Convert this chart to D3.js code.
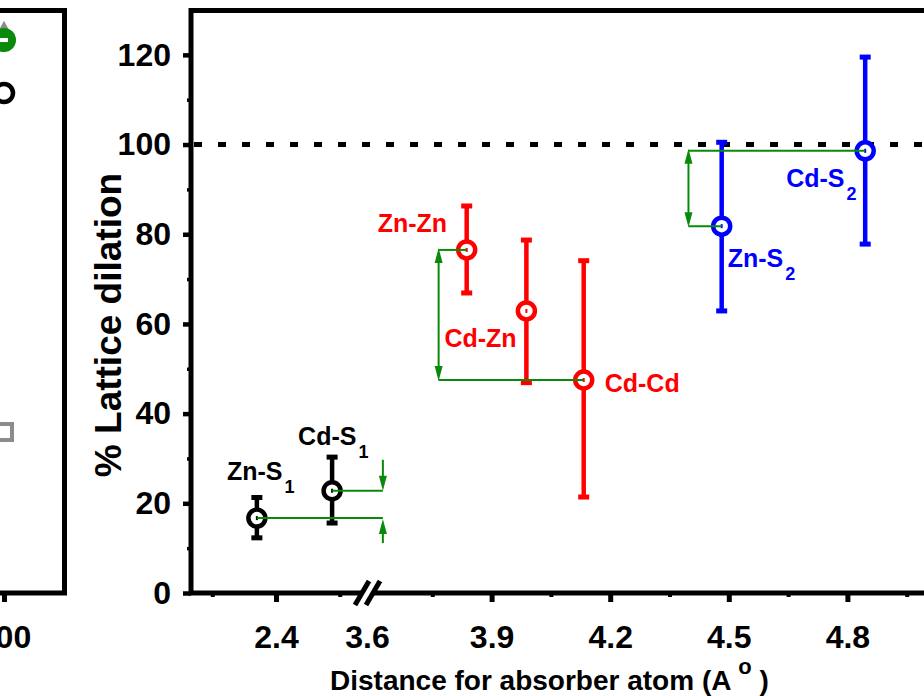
<!DOCTYPE html>
<html>
<head>
<meta charset="utf-8">
<script src="https://cdn.jsdelivr.net/npm/d3@7"></script>
<style>
  body { margin: 0; background: #fff; }
  svg { display: block; font-family: "Liberation Sans", Arial, sans-serif; font-weight: bold; }
</style>
</head>
<body>
<div id="chart"></div>
<script>
// bond pairs and their lattice dilation
const pairNames = ['Zn-S', 'Cd-S', 'Zn-Zn', 'Cd-Zn', 'Cd-Cd', 'Zn-S', 'Cd-S'];
const pairSubs = ['1', '1', '', '', '', '2', '2'];
const pairGroup = [0, 0, 1, 1, 1, 2, 2];
const distance = [2.355, 2.532, 3.837, 3.988, 4.133, 4.482, 4.845];
const dilation = [16.7, 22.8, 76.5, 62.9, 47.5, 81.8, 98.6];
const errLow = [12.3, 15.6, 66.9, 46.9, 21.4, 62.9, 77.8];
const errHigh = [21.3, 30.3, 86.3, 78.7, 74.1, 100.5, 119.5];
const groupColors = ['#000000', '#ff0000', '#0000ff'];

// green brackets: the two pairs they join and where the arrow stands
const bracketPairs = [[1, 0], [2, 4], [6, 5]];
const bracketX = [3.625, 3.766, 4.398];
const bracketKind = ['outside', 'inside', 'inside'];

const yMajor = [0, 20, 40, 60, 80, 100, 120];
const yMinor = [10, 30, 50, 70, 90, 110];
const xMajorLow = [2.4];
const xMinorLow = [2.25, 2.55];
const xMajorHigh = [3.6, 3.9, 4.2, 4.5, 4.8];
const xMinorHigh = [3.75, 4.05, 4.35, 4.65, 4.95];
const refLine = 100;

// neighbouring panel, cut off at the left edge
const leftTicks = [300];
const leftX = [300, 300, 300, 300];
const leftY = [124.5, 123.3, 111.5, 35.9];
const leftShape = ['triangle', 'disc', 'circle', 'square'];

const W = 924, H = 696;
const svg = d3.select('#chart').append('svg').attr('width', W).attr('height', H);

const y = d3.scaleLinear().domain([0, 130]).range([593, 10]);
const xLow = d3.scaleLinear().domain([2.2, 2.6]).range([191, 361]);
const xHigh = d3.scaleLinear().domain([3.6, 5.1]).range([373, 966]);
const x = v => v < 3 ? xLow(v) : xHigh(v);
const breakX = (xLow.range()[1] + xHigh.range()[0]) / 2;

function styleAxis(g, width) {
  g.select('.domain').remove();
  g.selectAll('.tick line').attr('stroke', '#000').attr('stroke-width', width);
  g.selectAll('.tick text').attr('fill', '#000').style('font-size', '32px').style('font-weight', 'bold')
    .style('font-family', '"Liberation Sans", Arial, sans-serif');
}

// ---- left (partial) panel ----
const lx = d3.scaleLinear().domain([290, 312]).range([-46, 64]);
const left = svg.append('g');
left.append('path').attr('d', `M-10,10.5H64.5V593`).attr('fill', 'none').attr('stroke', '#000').attr('stroke-width', 5);
left.append('line').attr('x1', -10).attr('x2', 67).attr('y1', 593).attr('y2', 593).attr('stroke', '#000').attr('stroke-width', 5);
left.append('g').attr('transform', 'translate(0,593)')
  .call(d3.axisBottom(lx).tickValues(leftTicks).tickSize(9).tickPadding(23))
  .call(g => styleAxis(g, 5));

leftShape.forEach((s, i) => {
  const cx = lx(leftX[i]), cy = y(leftY[i]);
  if (s === 'triangle') {
    left.append('path').attr('d', `M${cx},${cy - 14}L${cx + 12},${cy + 8}L${cx - 12},${cy + 8}Z`).attr('fill', '#8c8c8c');
  } else if (s === 'disc') {
    left.append('circle').attr('cx', cx).attr('cy', cy).attr('r', 12).attr('fill', '#0a8a0a');
    left.append('rect').attr('x', cx - 6).attr('y', cy - 2).attr('width', 10).attr('height', 4).attr('fill', '#fff');
  } else if (s === 'circle') {
    left.append('circle').attr('cx', cx).attr('cy', cy).attr('r', 9).attr('fill', '#fff').attr('stroke', '#000').attr('stroke-width', 4.5);
  } else {
    left.append('rect').attr('x', cx - 8).attr('y', cy - 8).attr('width', 16).attr('height', 16)
      .attr('fill', '#fff').attr('stroke', '#8c8c8c').attr('stroke-width', 4);
  }
});

// ---- main panel ----
// axes ticks and labels
svg.append('g').attr('transform', 'translate(191,0)')
  .call(d3.axisLeft(y).tickValues(yMajor).tickSize(8).tickPadding(12))
  .call(g => styleAxis(g, 4.5));
svg.append('g').attr('transform', 'translate(191,0)')
  .call(d3.axisLeft(y).tickValues(yMinor).tickSize(4).tickFormat(''))
  .call(g => styleAxis(g, 3.5));

svg.append('g').attr('transform', 'translate(0,593)')
  .call(d3.axisBottom(xLow).tickValues(xMajorLow).tickSize(9).tickPadding(23).tickFormat(d3.format('.1f')))
  .call(g => styleAxis(g, 5));
svg.append('g').attr('transform', 'translate(0,593)')
  .call(d3.axisBottom(xLow).tickValues(xMinorLow).tickSize(4).tickFormat(''))
  .call(g => styleAxis(g, 4));
svg.append('g').attr('transform', 'translate(0,593)')
  .call(d3.axisBottom(xHigh).tickValues(xMajorHigh).tickSize(9).tickPadding(23).tickFormat(d3.format('.1f')))
  .call(g => styleAxis(g, 5))
  .call(g => {
    const first = g.selectAll('.tick').filter(d => d === xMajorHigh[0]);
    first.select('line').remove();
    first.select('text').attr('dx', breakX - xHigh(xMajorHigh[0]));
  });
svg.append('g').attr('transform', 'translate(0,593)')
  .call(d3.axisBottom(xHigh).tickValues(xMinorHigh).tickSize(4).tickFormat(''))
  .call(g => styleAxis(g, 4));

// frame
svg.append('path').attr('d', `M${W + 10},10.5H191V593H${W + 10}`).attr('fill', 'none')
  .attr('stroke', '#000').attr('stroke-width', 5);

// axis break
svg.append('rect').attr('x', breakX - 6).attr('y', 588).attr('width', 12).attr('height', 10).attr('fill', '#fff');
[-5, 6].forEach(o => {
  svg.append('line').attr('x1', breakX + o - 7).attr('y1', 605).attr('x2', breakX + o + 7).attr('y2', 581)
    .attr('stroke', '#000').attr('stroke-width', 5);
});

// reference line
svg.append('line').attr('x1', 194).attr('x2', W + 10).attr('y1', y(refLine)).attr('y2', y(refLine))
  .attr('stroke', '#000').attr('stroke-width', 5).attr('stroke-dasharray', '8,16');

// error bars and markers
const idx = d3.range(distance.length);
const pts = svg.append('g');
idx.forEach(i => {
  const c = groupColors[pairGroup[i]];
  const cx = x(distance[i]);
  pts.append('line').attr('x1', cx).attr('x2', cx).attr('y1', y(errLow[i])).attr('y2', y(errHigh[i]))
    .attr('stroke', c).attr('stroke-width', 4.5);
  [errLow[i], errHigh[i]].forEach(v => {
    pts.append('rect').attr('x', cx - 5.5).attr('y', y(v) - 2.5).attr('width', 11).attr('height', 5).attr('fill', c);
  });
  pts.append('circle').attr('cx', cx).attr('cy', y(dilation[i])).attr('r', 8.5)
    .attr('fill', '#fff').attr('stroke', c).attr('stroke-width', 4.5);
  pts.append('rect').attr('x', cx - 1).attr('y', y(dilation[i]) - 2).attr('width', 2).attr('height', 4).attr('fill', c);
});

// green brackets
const green = '#0a8a0a';
const ann = svg.append('g');
function head(xt, yt, dir) {
  ann.append('path').attr('d', `M${xt},${yt}L${xt - 4},${yt - dir * 15}L${xt + 4},${yt - dir * 15}Z`).attr('fill', green);
}
bracketPairs.forEach(([a, b], k) => {
  const bx = xHigh(bracketX[k]);
  const ya = y(dilation[a]), yb = y(dilation[b]);
  [[a, ya], [b, yb]].forEach(([i, yy]) => {
    ann.append('line').attr('x1', bx).attr('x2', x(distance[i])).attr('y1', yy).attr('y2', yy)
      .attr('stroke', green).attr('stroke-width', 2);
  });
  const top = Math.min(ya, yb), bot = Math.max(ya, yb);
  if (bracketKind[k] === 'inside') {
    ann.append('line').attr('x1', bx).attr('x2', bx).attr('y1', top + 4).attr('y2', bot - 4)
      .attr('stroke', green).attr('stroke-width', 2);
    head(bx, top - 2, -1);
    head(bx, bot + 1, 1);
  } else {
    ann.append('line').attr('x1', bx).attr('x2', bx).attr('y1', top - 31).attr('y2', top - 6)
      .attr('stroke', green).attr('stroke-width', 2);
    head(bx, top, 1);
    ann.append('line').attr('x1', bx).attr('x2', bx).attr('y1', bot + 25).attr('y2', bot + 6)
      .attr('stroke', green).attr('stroke-width', 2);
    head(bx, bot + 1, -1);
  }
});

// pair labels
const labelOffset = [[-30, -38], [-34, -46], [-89, -18], [-82, 36], [21, 12], [6, 41], [-79, 36]];
idx.forEach(i => {
  const t = svg.append('text')
    .attr('x', x(distance[i]) + labelOffset[i][0])
    .attr('y', y(dilation[i]) + labelOffset[i][1])
    .attr('fill', groupColors[pairGroup[i]])
    .style('font-size', '25px');
  t.append('tspan').text(pairNames[i]);
  if (pairSubs[i]) t.append('tspan').attr('dx', 2).attr('dy', 13).style('font-size', '18px').text(pairSubs[i]);
});

// axis titles
svg.append('text').attr('transform', 'translate(121,325) rotate(-90)').attr('text-anchor', 'middle')
  .style('font-size', '37px').text('% Lattice dilation');
const xt = svg.append('text').attr('x', 330).attr('y', 690).style('font-size', '28px');
xt.append('tspan').text('Distance for absorber atom (A ');
xt.append('tspan').attr('dy', -16).style('font-size', '22px').text('o');
xt.append('tspan').attr('dy', 16).text(' )');
</script>
</body>
</html>
